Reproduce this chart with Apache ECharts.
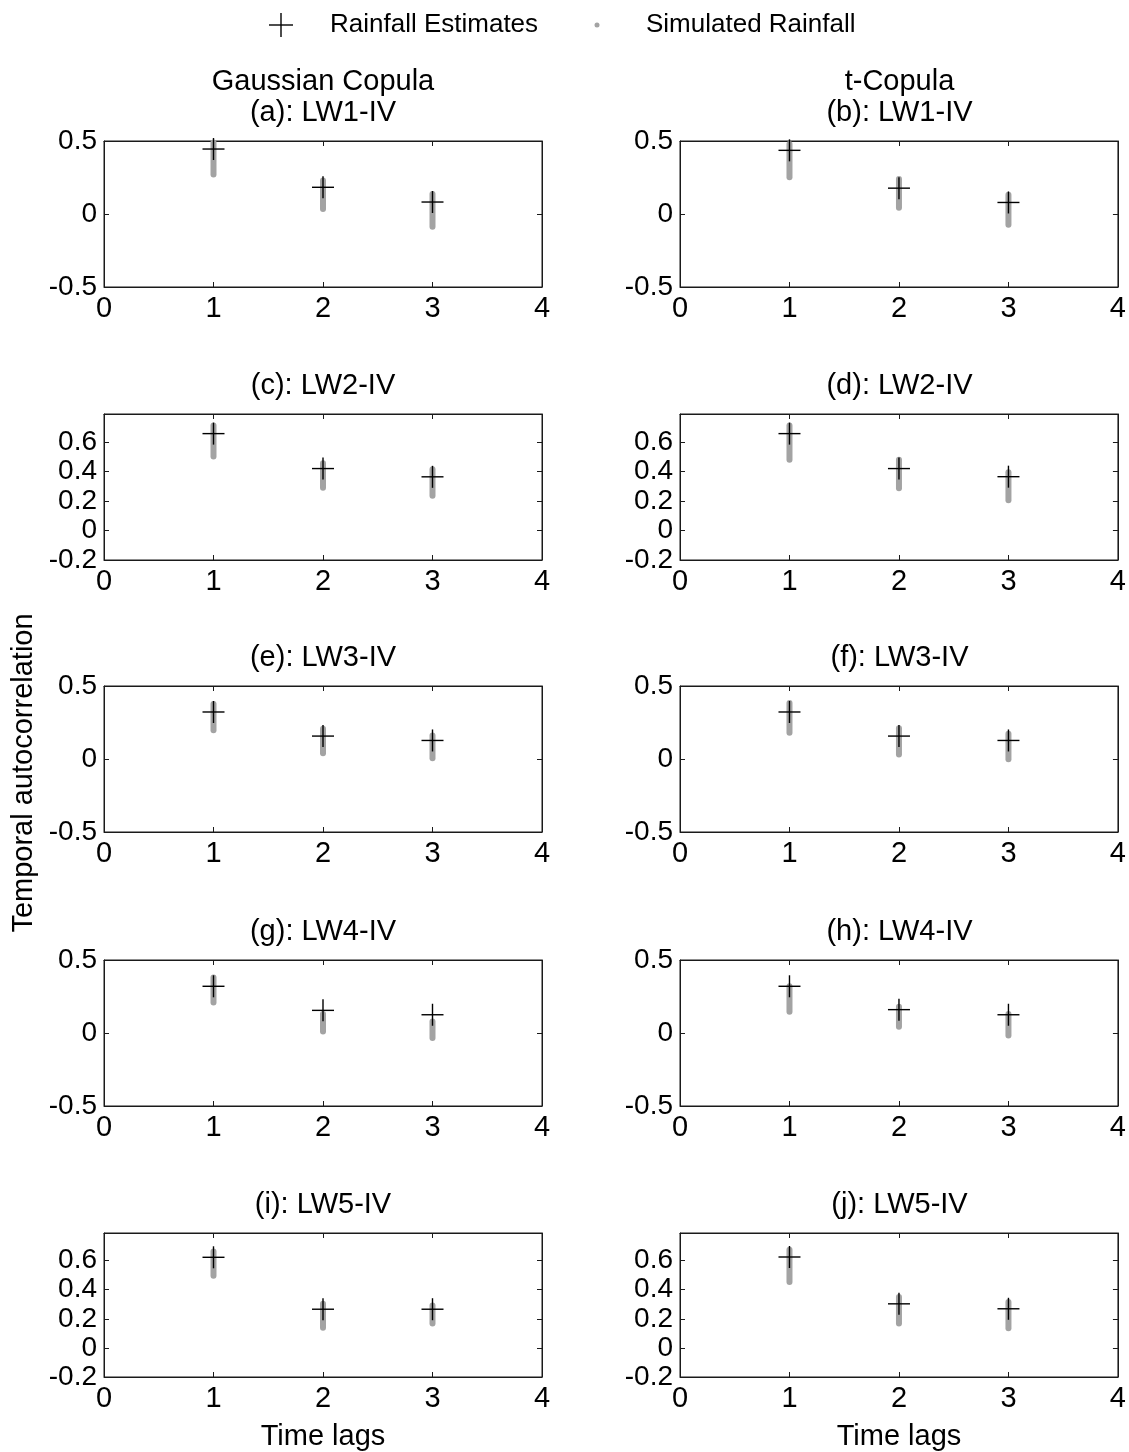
<!DOCTYPE html>
<html>
<head>
<meta charset="utf-8">
<title>Temporal autocorrelation – Gaussian vs t-Copula</title>
<script src="https://cdn.jsdelivr.net/npm/echarts@6/dist/echarts.min.js"></script>
<style>
  html, body { margin: 0; padding: 0; background: #fff; }
  #chart { width: 1129px; height: 1452px; }
</style>
</head>
<body>
<div id="chart"></div>
<script>
// ---- data -------------------------------------------------------------
const lags = [1, 2, 3];
const xTicks = [0, 1, 2, 3, 4];
const copulaNames = ['Gaussian Copula', 't-Copula'];
const panelLabels = [
  '(a): LW1-IV', '(b): LW1-IV',
  '(c): LW2-IV', '(d): LW2-IV',
  '(e): LW3-IV', '(f): LW3-IV',
  '(g): LW4-IV', '(h): LW4-IV',
  '(i): LW5-IV', '(j): LW5-IV'
];

// Rainfall estimates (autocorrelation at lags 1..3)
const estA = [0.445, 0.183, 0.082];
const estB = [0.436, 0.177, 0.079];
const estC = [0.657, 0.420, 0.364];
const estD = [0.657, 0.420, 0.365];
const estE = [0.322, 0.157, 0.127];
const estF = [0.322, 0.157, 0.127];
const estG = [0.320, 0.155, 0.125];
const estH = [0.320, 0.160, 0.125];
const estI = [0.623, 0.266, 0.266];
const estJ = [0.625, 0.303, 0.269];

// Spread of the simulated rainfall autocorrelations (lowest / highest)
const simLowA  = [0.250, 0.013, -0.108];
const simHighA = [0.510, 0.250, 0.158];
const simLowB  = [0.232, 0.022, -0.095];
const simHighB = [0.500, 0.261, 0.152];
const simLowC  = [0.482, 0.270, 0.216];
const simHighC = [0.732, 0.477, 0.436];
const simLowD  = [0.460, 0.267, 0.184];
const simHighD = [0.733, 0.500, 0.415];
const simLowE  = [0.177, 0.018, -0.016];
const simHighE = [0.397, 0.227, 0.182];
const simLowF  = [0.159, 0.011, -0.023];
const simHighF = [0.404, 0.232, 0.193];
const simLowG  = [0.189, -0.010, -0.055];
const simHighG = [0.400, 0.150, 0.100];
const simLowH  = [0.125, 0.023, -0.038];
const simHighH = [0.340, 0.200, 0.150];
const simLowI  = [0.476, 0.118, 0.148];
const simHighI = [0.684, 0.325, 0.313];
const simLowJ  = [0.433, 0.148, 0.114];
const simHighJ = [0.696, 0.370, 0.337];

// y-axis ranges per row of panels
const yWide   = { min: -0.5, max: 0.5,  interval: 0.5 };
const yNarrow = { min: -0.2, max: 0.79, interval: 0.2 };
const rowRanges = [yWide, yNarrow, yWide, yWide, yNarrow];

const estimates = [estA, estB, estC, estD, estE, estF, estG, estH, estI, estJ];
const simLows  = [simLowA, simLowB, simLowC, simLowD, simLowE, simLowF, simLowG, simLowH, simLowI, simLowJ];
const simHighs = [simHighA, simHighB, simHighC, simHighD, simHighE, simHighF, simHighG, simHighH, simHighI, simHighJ];

// ---- layout -----------------------------------------------------------
const FONT = '"Liberation Sans", Arial, Helvetica, sans-serif';
const colLeft = [104, 680];
const colWidth = [438, 439];
const rowTop = [141, 414, 686, 960, 1233];
const plotHeight = 146;
const axisColor = '#1a1a1a';
const simColor = '#a3a3a3';

const grids = [], xAxes = [], yAxes = [], series = [], graphics = [];

function tickText(v, step) {
  const k = v / step;
  if (Math.abs(k - Math.round(k)) > 1e-6) return '';
  return String(+v.toFixed(2));
}

panelLabels.forEach((label, i) => {
  const row = Math.floor(i / 2), col = i % 2;
  const yr = rowRanges[row];
  grids.push({
    left: colLeft[col], top: rowTop[row], width: colWidth[col], height: plotHeight,
    show: true, borderColor: axisColor, borderWidth: 1, backgroundColor: '#fff'
  });
  const lineStyle = { color: axisColor, width: 1 };
  // bottom + top x axes
  xAxes.push({
    gridIndex: i, type: 'value', min: xTicks[0], max: xTicks[xTicks.length - 1], interval: 1,
    position: 'bottom',
    axisLine: { show: true, onZero: false, lineStyle },
    axisTick: { show: true, inside: true, length: 5, lineStyle },
    axisLabel: { show: true, fontSize: 29, fontFamily: FONT, color: '#000', margin: 7 },
    splitLine: { show: false },
    name: row === 4 ? 'Time lags' : '',
    nameLocation: 'middle', nameGap: 45,
    nameTextStyle: { fontSize: 29, fontFamily: FONT, color: '#000' }
  });
  xAxes.push({
    gridIndex: i, type: 'value', min: xTicks[0], max: xTicks[xTicks.length - 1], interval: 1,
    position: 'top',
    axisLine: { show: true, onZero: false, lineStyle },
    axisTick: { show: true, inside: true, length: 5, lineStyle },
    axisLabel: { show: false },
    splitLine: { show: false }
  });
  // left + right y axes
  yAxes.push({
    gridIndex: i, type: 'value', min: yr.min, max: yr.max, interval: yr.interval,
    position: 'left',
    axisLine: { show: true, onZero: false, lineStyle },
    axisTick: { show: true, inside: true, length: 5, lineStyle },
    axisLabel: {
      show: true, fontSize: 28, fontFamily: FONT, color: '#000', margin: 7,
      formatter: v => tickText(v, yr.interval)
    },
    splitLine: { show: false }
  });
  yAxes.push({
    gridIndex: i, type: 'value', min: yr.min, max: yr.max, interval: yr.interval,
    position: 'right',
    axisLine: { show: true, onZero: false, lineStyle },
    axisTick: { show: true, inside: true, length: 5, lineStyle },
    axisLabel: { show: false },
    splitLine: { show: false }
  });

  // simulated spread: thick grey bar with rounded ends
  series.push({
    name: 'Simulated Rainfall', type: 'custom',
    xAxisIndex: 2 * i, yAxisIndex: 2 * i,
    data: lags.map((lag, k) => [lag, simLows[i][k], simHighs[i][k]]),
    renderItem: (params, api) => {
      const lo = api.coord([api.value(0), api.value(1)]);
      const hi = api.coord([api.value(0), api.value(2)]);
      const r = 3;
      return {
        type: 'line',
        shape: { x1: lo[0], y1: lo[1] - r, x2: hi[0], y2: hi[1] + r },
        style: { stroke: simColor, lineWidth: 6, lineCap: 'round' }
      };
    },
    z: 2
  });

  // rainfall estimates: black plus markers
  series.push({
    name: 'Rainfall Estimates', type: 'custom',
    xAxisIndex: 2 * i, yAxisIndex: 2 * i,
    data: lags.map((lag, k) => [lag, estimates[i][k]]),
    renderItem: (params, api) => {
      const c = api.coord([api.value(0), api.value(1)]);
      const h = 11;
      const st = { stroke: '#000', lineWidth: 1.4 };
      return {
        type: 'group',
        children: [
          { type: 'line', shape: { x1: c[0] - h, y1: c[1], x2: c[0] + h, y2: c[1] }, style: st },
          { type: 'line', shape: { x1: c[0], y1: c[1] - h, x2: c[0], y2: c[1] + h }, style: st }
        ]
      };
    },
    z: 3
  });

  // panel title
  graphics.push({
    type: 'text', x: colLeft[col] + colWidth[col] / 2, y: rowTop[row] - 28,
    style: { text: label, fontSize: 29, fontFamily: FONT, fill: '#000', align: 'center', verticalAlign: 'middle' }
  });
});

// column headings
copulaNames.forEach((name, col) => {
  graphics.push({
    type: 'text', x: colLeft[col] + colWidth[col] / 2, y: 82,
    style: { text: name, fontSize: 29, fontFamily: FONT, fill: '#000', align: 'center', verticalAlign: 'middle' }
  });
});

// shared y-axis title
graphics.push({
  type: 'text', x: 24, y: 773, rotation: Math.PI / 2,
  style: { text: 'Temporal autocorrelation', fontSize: 29, fontFamily: FONT, fill: '#000', align: 'center', verticalAlign: 'middle' }
});

// legend
const legendY = 25;
graphics.push(
  { type: 'line', shape: { x1: 269, y1: legendY, x2: 293, y2: legendY }, style: { stroke: '#000', lineWidth: 1.4 } },
  { type: 'line', shape: { x1: 281, y1: legendY - 12, x2: 281, y2: legendY + 12 }, style: { stroke: '#000', lineWidth: 1.4 } },
  { type: 'text', x: 330, y: legendY, style: { text: 'Rainfall Estimates', fontSize: 26, fontFamily: FONT, fill: '#000', align: 'left', verticalAlign: 'middle' } },
  { type: 'circle', shape: { cx: 597, cy: legendY, r: 2.5 }, style: { fill: simColor } },
  { type: 'text', x: 646, y: legendY, style: { text: 'Simulated Rainfall', fontSize: 26, fontFamily: FONT, fill: '#000', align: 'left', verticalAlign: 'middle' } }
);

const chart = echarts.init(document.getElementById('chart'), null, { renderer: 'canvas' });
chart.setOption({
  backgroundColor: '#fff',
  animation: false,
  grid: grids,
  xAxis: xAxes,
  yAxis: yAxes,
  series: series,
  graphic: graphics
});
</script>
</body>
</html>
